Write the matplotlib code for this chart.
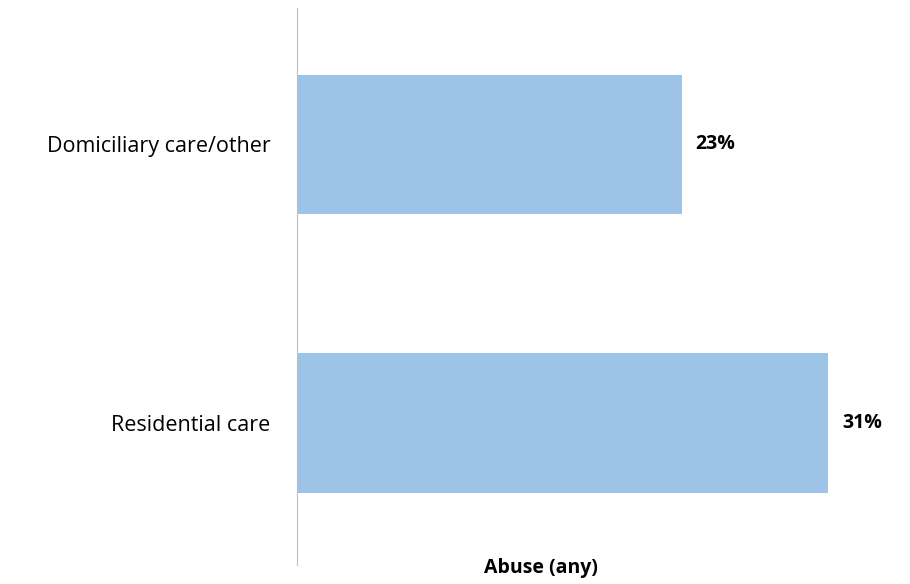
import matplotlib.pyplot as plt

categories = ['Residential care', 'Domiciliary care/other']
values = [31.2, 22.6]
value_labels = ['31%', '23%']

plt.rcParams['font.family'] = ['Open Sans', 'DejaVu Sans']

fig = plt.figure(figsize=(9.1, 5.84), dpi=100)
ax = fig.add_axes([297 / 910, 19 / 584, 596 / 910, 557 / 584])

y = list(range(len(categories)))
bars = ax.barh(y, values, height=0.5, color='#9DC3E6')

for b, lab in zip(bars, value_labels):
    ax.annotate(lab, (b.get_width(), b.get_y() + b.get_height() / 2),
                xytext=(10, 0), textcoords='offset points',
                va='center', ha='left', fontsize=14, fontweight='bold')

ax.set_xlim(0, 35)
ax.set_ylim(-0.51, 1.49)
ax.set_yticks(y)
ax.set_yticklabels(categories, fontsize=15.5)
ax.tick_params(axis='y', length=0, pad=19)
ax.set_xticks([])
for s in ['top', 'right', 'bottom']:
    ax.spines[s].set_visible(False)
ax.spines['left'].set_color('#BFBFBF')

fig.text(541 / 910, 1 - 568 / 584, 'Abuse (any)', ha='center', va='center',
         fontsize=14, fontweight='bold')

fig.savefig('out.png', dpi=100)
